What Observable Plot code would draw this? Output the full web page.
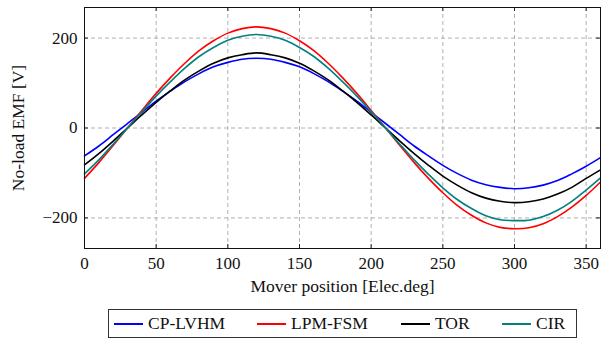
<!DOCTYPE html>
<html>
<head>
<meta charset="utf-8">
<script src="https://cdn.jsdelivr.net/npm/d3@7"></script>
<script src="https://cdn.jsdelivr.net/npm/@observablehq/plot@0.6"></script>
<style>
  html, body { margin: 0; padding: 0; background: #fff; }
  #wrap { position: relative; width: 601px; height: 339px; font-family: "Liberation Serif", serif; }
  #legend { position: absolute; left: 108px; top: 309px; width: 467px; height: 27px; border: 1px solid #333; box-sizing: content-box; }
  .item { position: absolute; top: 0; height: 27px; display: flex; align-items: center; font-size: 17.5px; color: #111; white-space: nowrap; }
  .sw { display: inline-block; width: 29px; height: 0; border-top: 2px solid; margin-right: 5px; }
</style>
</head>
<body>
<div id="wrap"><div id="chart"></div><div id="legend"></div></div>
<script>
const positions = [0,10,20,30,40,50,60,70,80,90,100,110,120,130,140,150,160,170,180,190,200,210,220,230,240,250,260,270,280,290,300,310,320,330,340,350,360];
const seriesNames = ["CP-LVHM", "LPM-FSM", "TOR", "CIR"];
const seriesColors = ["#0000ff", "#ff0000", "#000000", "#008080"];
const cpLvhm = [-62,-40,-15,10,35,60,82,103,121,136,146,153,155,153,146,136,121,103,82,60,35,10,-15,-40,-62,-83,-101,-116,-126,-132,-135,-133,-127,-117,-102,-85,-66];
const lpmFsm = [-112,-77,-39,0,39,77,112,144,172,194,211,221,225,221,211,194,172,144,112,77,39,0,-39,-77,-112,-144,-172,-194,-211,-221,-224,-222,-213,-197,-176,-150,-120];
const tor = [-82,-57,-29,0,29,57,83,107,127,144,156,163,167,163,156,144,127,107,83,57,29,0,-29,-57,-83,-107,-127,-144,-156,-163,-166,-164,-158,-147,-132,-112,-93];
const cir = [-102,-71,-36,0,36,71,103,133,159,179,195,204,208,204,195,179,159,133,103,71,36,0,-36,-71,-103,-133,-159,-179,-195,-204,-206,-205,-197,-183,-163,-138,-111];
const xTicks = [0,50,100,150,200,250,300,350];
const yTicks = [-200,0,200];

const valuesBySeries = [cpLvhm, lpmFsm, tor, cir];
const table = [];
seriesNames.forEach((name, i) => positions.forEach((p, j) => table.push({series: name, x: p, y: valuesBySeries[i][j]})));

const W = 601, H = 300, mL = 84, mR = 1, mT = 7, mB = 52;
const plotW = W - mL - mR, plotH = H - mT - mB, tl = 4;

const chart = Plot.plot({
  width: W, height: H,
  marginLeft: mL, marginRight: mR, marginTop: mT, marginBottom: mB,
  style: {fontFamily: "'Liberation Serif', serif", fontSize: "17px", color: "#111", background: "#fff"},
  x: {domain: [0, 360]},
  y: {domain: [-268, 268]},
  color: {domain: seriesNames, range: seriesColors},
  marks: [
    Plot.gridX(xTicks, {stroke: "#b0b0b0", strokeOpacity: 1, strokeDasharray: "4,3"}),
    Plot.gridY(yTicks, {stroke: "#b0b0b0", strokeOpacity: 1, strokeDasharray: "4,3"}),
    Plot.axisX(xTicks, {tickSize: 0, tickPadding: 8, fontSize: 17, label: null}),
    Plot.axisY(yTicks, {tickSize: 0, tickPadding: 7, fontSize: 17, label: null}),
    Plot.axisX({ticks: [], tickSize: 0, label: "Mover position [Elec.deg]", labelAnchor: "center", labelArrow: "none", labelOffset: 43, fontSize: 17.5}),
    Plot.axisY({ticks: [], tickSize: 0, label: "No-load EMF [V]", labelAnchor: "center", labelArrow: "none", labelOffset: 73, fontSize: 17.5}),
    Plot.tickX(xTicks, {x: d => d, insetTop: plotH - tl, stroke: "#222"}),
    Plot.tickX(xTicks, {x: d => d, insetBottom: plotH - tl, stroke: "#222"}),
    Plot.tickY(yTicks, {y: d => d, insetRight: plotW - tl, stroke: "#222"}),
    Plot.tickY(yTicks, {y: d => d, insetLeft: plotW - tl, stroke: "#222"}),
    Plot.line(table, {x: "x", y: "y", z: "series", stroke: "series", strokeWidth: 1.6, curve: "catmull-rom"}),
    Plot.frame({stroke: "#111", strokeWidth: 1})
  ]
});
document.getElementById("chart").appendChild(chart);

const legend = document.getElementById("legend");
const itemLefts = [5, 148, 292, 393];
seriesNames.forEach((name, i) => {
  const it = document.createElement("div");
  it.className = "item";
  it.style.left = itemLefts[i] + "px";
  const sw = document.createElement("span");
  sw.className = "sw";
  sw.style.borderTopColor = seriesColors[i];
  it.appendChild(sw);
  it.appendChild(document.createTextNode(name));
  legend.appendChild(it);
});
</script>
</body>
</html>
